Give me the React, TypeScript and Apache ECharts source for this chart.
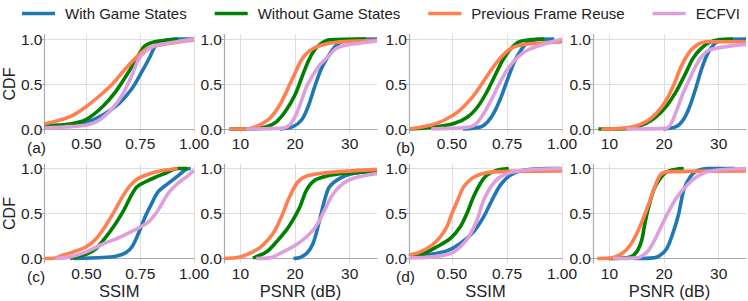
import React, { useEffect, useRef } from "react";
import * as echarts from "echarts";

// ---------- legend / series names ----------
const METHODS = ["With Game States", "Without Game States", "Previous Frame Reuse", "ECFVI"];
const COLORS = ["#1f77b4", "#008000", "#ff7f50", "#dda0dd"];
const PANEL_LABELS = ["(a)", "(b)", "(c)", "(d)"];
const X_NAMES = ["SSIM", "PSNR (dB)"];
const SSIM_TICKS = [0.5, 0.75, 1.0];
const PSNR_TICKS = [10, 20, 30];
const CDF_TICKS = [0, 0.5, 1.0];

// ---------- (a) ----------
const A_SSIM_WITH = [[0.306,0.015],[0.424,0.044],[0.5,0.074],[0.576,0.155],[0.652,0.285],[0.712,0.45],[0.758,0.637],[0.795,0.8],[0.818,0.915],[0.848,0.97],[0.924,1.0],[1.0,1.0]];
const A_SSIM_WITHOUT = [[0.306,0.037],[0.424,0.055],[0.5,0.107],[0.576,0.25],[0.636,0.415],[0.697,0.637],[0.742,0.82],[0.773,0.926],[0.818,0.97],[0.879,0.99],[0.924,1.0]];
const A_SSIM_PREV = [[0.306,0.055],[0.424,0.137],[0.5,0.25],[0.576,0.4],[0.621,0.5],[0.682,0.67],[0.727,0.785],[0.773,0.88],[0.833,0.93],[0.909,0.96],[1.0,0.99]];
const A_SSIM_ECFVI = [[0.306,0.01],[0.424,0.026],[0.5,0.044],[0.561,0.1],[0.621,0.23],[0.667,0.38],[0.712,0.6],[0.742,0.77],[0.773,0.86],[0.818,0.926],[0.909,0.963],[1.0,1.0]];

const A_PSNR_WITH = [[17.2,0],[19.6,0.026],[21.2,0.1],[22.4,0.25],[23.6,0.47],[24.8,0.67],[26,0.8],[27.3,0.915],[28.8,0.978],[31.2,0.996],[35,1.0]];
const A_PSNR_WITHOUT = [[8,0],[12.3,0],[14.8,0.026],[16.6,0.08],[18.4,0.21],[20,0.38],[21.2,0.567],[22.4,0.75],[23.6,0.88],[24.8,0.95],[26.3,0.99],[33,1.0]];
const A_PSNR_PREV = [[8,0],[11.1,0],[13.5,0.044],[15.4,0.12],[17.2,0.267],[18.7,0.45],[20,0.62],[21.2,0.77],[22.7,0.87],[24.5,0.926],[27.6,0.963],[33,0.98],[35,0.985]];
const A_PSNR_ECFVI = [[11.1,0],[17.8,0.01],[19,0.044],[20,0.137],[20.9,0.267],[22.1,0.47],[23.3,0.6],[24.5,0.71],[26,0.8],[27.6,0.896],[29.4,0.933],[31.8,0.952],[35,0.978]];

// ---------- (b) ----------
const B_SSIM_WITH = [[0.55,0],[0.633,0.026],[0.663,0.08],[0.693,0.19],[0.724,0.36],[0.754,0.56],[0.784,0.75],[0.814,0.878],[0.844,0.963],[0.89,0.996],[0.965,1.0]];
const B_SSIM_WITHOUT = [[0.311,0],[0.437,0.026],[0.512,0.063],[0.573,0.137],[0.618,0.25],[0.656,0.4],[0.693,0.58],[0.731,0.767],[0.769,0.896],[0.807,0.97],[0.86,0.993],[0.92,1.0]];
const B_SSIM_PREV = [[0.311,0],[0.406,0.044],[0.467,0.1],[0.527,0.19],[0.588,0.34],[0.633,0.49],[0.678,0.655],[0.724,0.8],[0.769,0.896],[0.814,0.933],[0.89,0.952],[1.0,0.97]];
const B_SSIM_ECFVI = [[0.406,0],[0.557,0.015],[0.603,0.044],[0.64,0.155],[0.678,0.32],[0.716,0.507],[0.754,0.67],[0.8,0.8],[0.844,0.878],[0.905,0.933],[1.0,1.0]];

const B_PSNR_WITH = [[19.8,0],[22.2,0.026],[23.5,0.1],[24.7,0.25],[25.9,0.47],[26.8,0.655],[28,0.84],[29.3,0.95],[30.8,0.99],[35,1.0]];
const B_PSNR_WITHOUT = [[8,0],[12,0],[14.3,0.015],[16.7,0.063],[18.6,0.137],[20.4,0.25],[22.2,0.415],[23.8,0.6],[25.3,0.785],[26.8,0.896],[28.3,0.963],[30.2,0.993],[32.6,1.0]];
const B_PSNR_PREV = [[8.5,0],[11,0.003],[14.3,0.026],[16.7,0.08],[18.6,0.174],[20.4,0.32],[21.9,0.507],[23.1,0.69],[24.7,0.86],[26.2,0.94],[27.7,0.97],[35,0.97]];
const B_PSNR_ECFVI = [[13.1,0],[20.4,0.01],[21.3,0.063],[22.2,0.19],[23.5,0.4],[24.7,0.56],[25.9,0.71],[27.1,0.82],[28.3,0.878],[30.2,0.904],[32.6,0.926],[35,0.94]];

// ---------- (c) ----------
const C_SSIM_WITH = [[0.44,0],[0.576,0.011],[0.636,0.026],[0.682,0.063],[0.712,0.13],[0.742,0.28],[0.773,0.463],[0.803,0.61],[0.833,0.74],[0.879,0.833],[0.924,0.915],[0.962,0.99],[0.985,1.0]];
const C_SSIM_WITHOUT = [[0.424,0],[0.5,0.048],[0.545,0.11],[0.591,0.24],[0.636,0.39],[0.674,0.537],[0.705,0.685],[0.735,0.796],[0.773,0.85],[0.818,0.9],[0.864,0.944],[0.924,1.0],[0.97,1.0]];
const C_SSIM_PREV = [[0.306,0],[0.356,0.005],[0.379,0.026],[0.44,0.074],[0.5,0.13],[0.545,0.22],[0.591,0.37],[0.629,0.52],[0.667,0.685],[0.705,0.815],[0.742,0.89],[0.788,0.937],[0.848,0.974],[0.924,1.0]];
const C_SSIM_ECFVI = [[0.356,0],[0.424,0.018],[0.5,0.074],[0.576,0.16],[0.652,0.233],[0.727,0.32],[0.788,0.407],[0.833,0.537],[0.879,0.72],[0.924,0.833],[0.97,0.915],[1.0,0.98]];

const C_PSNR_WITH = [[19.7,0],[20.9,0.011],[22.1,0.055],[23.3,0.167],[24.5,0.426],[25.4,0.648],[26.3,0.796],[28.2,0.89],[30.6,0.944],[35,0.974]];
const C_PSNR_WITHOUT = [[12.3,0.005],[14.8,0.074],[16.6,0.185],[18.4,0.315],[19.6,0.426],[20.9,0.574],[22.1,0.76],[23.6,0.87],[25.7,0.915],[28.8,0.944],[35,0.974]];
const C_PSNR_PREV = [[7,0],[9.9,0.018],[12.3,0.074],[14.1,0.148],[16,0.28],[17.5,0.463],[19,0.685],[20.5,0.85],[22.1,0.915],[24.5,0.944],[27.6,0.963],[35,0.99]];
const C_PSNR_ECFVI = [[12.9,0],[15.4,0.007],[17.8,0.074],[19.6,0.13],[21.5,0.21],[23.3,0.315],[24.5,0.426],[25.7,0.574],[27,0.72],[28.8,0.833],[30.6,0.89],[35,0.944]];

// ---------- (d) ----------
const D_SSIM_WITH = [[0.305,0.026],[0.402,0.048],[0.477,0.085],[0.538,0.167],[0.598,0.296],[0.644,0.463],[0.682,0.648],[0.72,0.815],[0.765,0.926],[0.826,0.98],[0.932,1.0],[0.992,1.0]];
const D_SSIM_WITHOUT = [[0.305,0.018],[0.371,0.055],[0.432,0.13],[0.492,0.22],[0.538,0.352],[0.568,0.5],[0.598,0.685],[0.629,0.833],[0.659,0.926],[0.705,0.98],[0.758,1.0]];
const D_SSIM_PREV = [[0.305,0.037],[0.356,0.074],[0.41,0.148],[0.447,0.24],[0.477,0.352],[0.5,0.5],[0.523,0.63],[0.553,0.796],[0.591,0.89],[0.629,0.937],[0.689,0.963],[1.0,0.974]];
const D_SSIM_ECFVI = [[0.305,0.007],[0.417,0.018],[0.492,0.055],[0.538,0.13],[0.576,0.24],[0.614,0.426],[0.644,0.648],[0.682,0.815],[0.72,0.907],[0.78,0.963],[0.871,0.989],[1.0,1.0]];

const D_PSNR_WITH = [[14.5,0],[18.1,0.007],[19.3,0.037],[20.5,0.11],[21.7,0.296],[22.7,0.5],[23.6,0.76],[24.8,0.907],[26,0.974],[27.9,1.0],[33,1.0]];
const D_PSNR_WITHOUT = [[9.8,0],[13.8,0.018],[15,0.074],[15.9,0.2],[16.5,0.39],[17.2,0.574],[18.1,0.76],[19.3,0.89],[20.5,0.963],[22.4,0.993],[23.6,1.0]];
const D_PSNR_PREV = [[7.8,0],[10.7,0.011],[12.3,0.055],[13.8,0.148],[15.3,0.315],[16.9,0.555],[18.1,0.76],[19.3,0.926],[20.5,0.963],[35,0.974]];
const D_PSNR_ECFVI = [[10.7,0],[15,0.007],[16.9,0.074],[18.1,0.185],[19.3,0.333],[20.8,0.518],[22.4,0.685],[24.2,0.815],[26,0.907],[27.9,0.963],[30.9,0.989],[35,1.0]];

// panels in display order: row 1 = (a) SSIM, (a) PSNR, (b) SSIM, (b) PSNR; row 2 = (c)..., (d)...
const PANELS = [
  { kind: 0, data: [A_SSIM_WITH, A_SSIM_WITHOUT, A_SSIM_PREV, A_SSIM_ECFVI] },
  { kind: 1, data: [A_PSNR_WITH, A_PSNR_WITHOUT, A_PSNR_PREV, A_PSNR_ECFVI] },
  { kind: 0, data: [B_SSIM_WITH, B_SSIM_WITHOUT, B_SSIM_PREV, B_SSIM_ECFVI] },
  { kind: 1, data: [B_PSNR_WITH, B_PSNR_WITHOUT, B_PSNR_PREV, B_PSNR_ECFVI] },
  { kind: 0, data: [C_SSIM_WITH, C_SSIM_WITHOUT, C_SSIM_PREV, C_SSIM_ECFVI] },
  { kind: 1, data: [C_PSNR_WITH, C_PSNR_WITHOUT, C_PSNR_PREV, C_PSNR_ECFVI] },
  { kind: 0, data: [D_SSIM_WITH, D_SSIM_WITHOUT, D_SSIM_PREV, D_SSIM_ECFVI] },
  { kind: 1, data: [D_PSNR_WITH, D_PSNR_WITHOUT, D_PSNR_PREV, D_PSNR_ECFVI] },
];

const FONT = "'Liberation Sans', Arial, sans-serif";
const TEXT_COLOR = "#222222";
const GRID_LEFTS = [41, 224, 409, 593];
const GRID_TOPS = [34.5, 164];
const GRID_W = 153;
const GRID_H = 99;

function buildOption() {
  const grid: any[] = [];
  const xAxis: any[] = [];
  const yAxis: any[] = [];
  const series: any[] = [];
  PANELS.forEach((p, i) => {
    const row = i < 4 ? 0 : 1;
    const col = i % 4;
    grid.push({ left: GRID_LEFTS[col], top: GRID_TOPS[row], width: GRID_W, height: GRID_H, containLabel: false });
    const isSSIM = p.kind === 0;
    xAxis.push({
      type: "value",
      gridIndex: i,
      min: isSSIM ? 0.305 : 7,
      max: isSSIM ? 1.0 : 35,
      name: row === 1 ? X_NAMES[p.kind] : "",
      nameLocation: "middle",
      nameGap: 19,
      nameTextStyle: { fontSize: 16.5, fontFamily: FONT, color: TEXT_COLOR },
      axisLine: { show: true, lineStyle: { color: "#aaaaaa", width: 1.2 } },
      axisTick: { show: false, customValues: isSSIM ? SSIM_TICKS : PSNR_TICKS },
      axisLabel: {
        customValues: isSSIM ? SSIM_TICKS : PSNR_TICKS,
        formatter: (v: number) => (isSSIM ? v.toFixed(2) : String(v)),
        fontSize: 15.5,
        fontFamily: FONT,
        color: TEXT_COLOR,
        margin: 2,
        hideOverlap: false,
      },
      splitLine: { show: true, lineStyle: { color: "#dddddd", width: 1 } },
    });
    yAxis.push({
      type: "value",
      gridIndex: i,
      min: -0.05,
      max: 1.05,
      name: col === 0 ? "CDF" : "",
      nameLocation: "middle",
      nameGap: 25.5,
      nameTextStyle: { fontSize: 16, fontFamily: FONT, color: TEXT_COLOR },
      axisLine: { show: true, lineStyle: { color: "#aaaaaa", width: 1.2 } },
      axisTick: { show: true, length: 3, customValues: CDF_TICKS, lineStyle: { color: "#aaaaaa" } },
      axisLabel: {
        customValues: CDF_TICKS,
        formatter: (v: number) => v.toFixed(1),
        fontSize: 15.5,
        fontFamily: FONT,
        color: TEXT_COLOR,
        margin: 2,
      },
      splitLine: { show: true, lineStyle: { color: "#dddddd", width: 1 } },
    });
    p.data.forEach((d, k) => {
      series.push({
        type: "line",
        name: METHODS[k],
        xAxisIndex: i,
        yAxisIndex: i,
        data: d,
        showSymbol: false,
        smooth: 0.3,
        color: COLORS[k],
        lineStyle: { width: 3.6, color: COLORS[k] },
        z: 2 + k,
      });
    });
  });

  const graphic: any[] = [
    { x: 27, y: 147 },
    { x: 396, y: 147 },
    { x: 27, y: 276 },
    { x: 396, y: 276 },
  ].map((pos, i) => ({
    type: "text",
    x: pos.x,
    y: pos.y,
    style: { text: PANEL_LABELS[i], font: `15.5px ${FONT}`, fill: TEXT_COLOR, verticalAlign: "middle", align: "left" },
  }));

  return {
    animation: false,
    backgroundColor: "#ffffff",
    legend: {
      top: 6,
      left: 22,
      padding: 0,
      itemWidth: 33,
      itemHeight: 3.5,
      itemGap: 28,
      icon: "rect",
      data: METHODS,
      textStyle: { fontSize: 15, fontFamily: FONT, color: TEXT_COLOR, padding: [0, 0, 0, 5] },
    },
    grid,
    xAxis,
    yAxis,
    series,
    graphic,
  };
}

export default function App() {
  const ref = useRef<HTMLDivElement>(null);
  useEffect(() => {
    document.body.style.margin = "0";
    if (!ref.current) return;
    const chart = echarts.init(ref.current, null, { renderer: "svg" });
    chart.setOption(buildOption() as any);
    return () => chart.dispose();
  }, []);
  return <div ref={ref} style={{ width: 748, height: 301, position: "absolute", left: 0, top: 0 }} />;
}
